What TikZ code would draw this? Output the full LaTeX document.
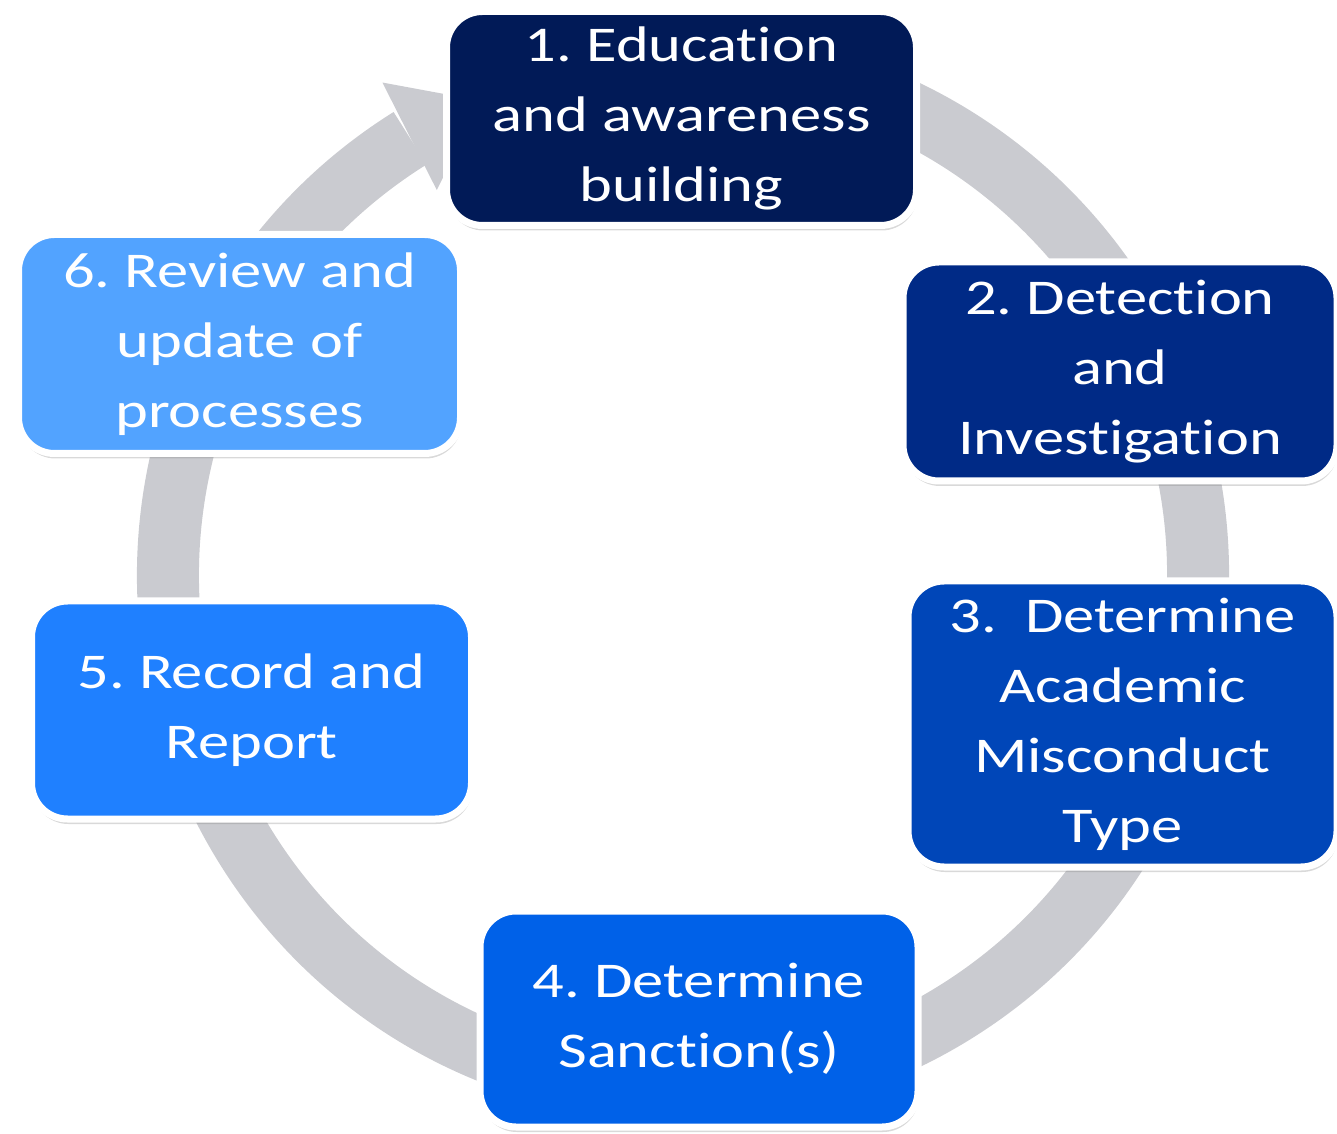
\documentclass[tikz,border=0pt]{standalone}
\usepackage{fontspec}
\setmainfont{Carlito}[FakeStretch=1.25, Ligatures=CommonOff]
\usetikzlibrary{shadows}
\definecolor{ringgray}{HTML}{CACBD0}
\definecolor{stepA}{HTML}{011A57}
\definecolor{stepB}{HTML}{002A86}
\definecolor{stepC}{HTML}{0046B8}
\definecolor{stepD}{HTML}{0061E8}
\definecolor{stepE}{HTML}{1F80FF}
\definecolor{stepF}{HTML}{52A3FF}
\tikzset{stage/.style={draw=white, line width=7pt, rounded corners=36pt, text=white,
  align=center, inner sep=0pt, font=\fontsize{50}{70}\selectfont\frenchspacing,
  drop shadow={shadow xshift=1pt, shadow yshift=-5pt, opacity=0.3}}}

\begin{document}
\begin{tikzpicture}[x=1pt,y=1pt]
\useasboundingbox (0,0) rectangle (1337,1133);
\coordinate (hub) at (683,558);
% grey ring with its arrow head
\draw[ringgray, line width=62pt] ([shift={(122:515)}]hub) arc[start angle=122, end angle=440, radius=515];
\fill[ringgray] ([shift={(121.4:577)}]hub) -- ([shift={(113:515)}]hub) -- ([shift={(122.6:457)}]hub) -- cycle;

\node[stage, fill=stepA, minimum width=470, minimum height=214] (educ) at (681.5,1014.5) {1. Education\\and awareness\\building};
\node[stage, fill=stepB, minimum width=434, minimum height=219] (detect) at (1120,761.5) {2. Detection\\and\\Investigation};
\node[stage, fill=stepC, minimum width=429, minimum height=286] (mtype) at (1122.5,409) {3.\ \ Determine\\Academic\\Misconduct\\Type};
\node[stage, fill=stepD, minimum width=438, minimum height=216] (sanct) at (699,114) {4. Determine\\Sanction(s)};
\node[stage, fill=stepE, minimum width=440, minimum height=218] (record) at (251.5,423) {5. Record and\\Report};
\node[stage, fill=stepF, minimum width=442, minimum height=219] (review) at (239.5,789) {6. Review and\\update of\\processes};

\end{tikzpicture}
\end{document}
